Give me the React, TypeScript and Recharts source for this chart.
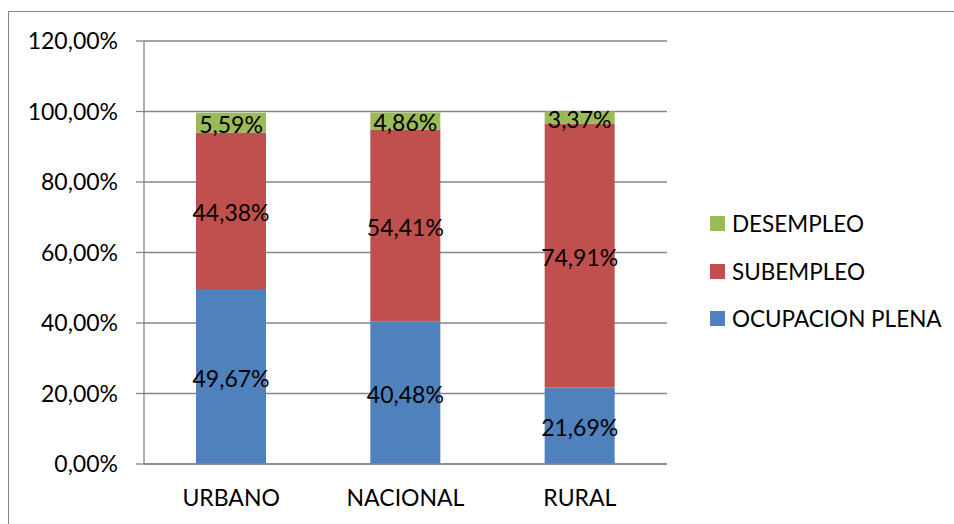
import React from 'react';
import { BarChart, Bar, XAxis, YAxis, CartesianGrid, LabelList } from 'recharts';

const categories = ['URBANO', 'NACIONAL', 'RURAL'];
const ocupacionPlena = [49.67, 40.48, 21.69];
const subempleo = [44.38, 54.41, 74.91];
const desempleo = [5.59, 4.86, 3.37];
const yTicks = [0, 20, 40, 60, 80, 100, 120];
const boundaryTicks = [0, 1, 2, 3];

const series = [
  { key: 'desempleo', name: 'DESEMPLEO', color: '#9BBB59' },
  { key: 'subempleo', name: 'SUBEMPLEO', color: '#C0504D' },
  { key: 'ocupacion', name: 'OCUPACION PLENA', color: '#4F81BD' },
];

const data = categories.map((name, i) => ({
  name,
  ocupacion: ocupacionPlena[i],
  subempleo: subempleo[i],
  desempleo: desempleo[i],
}));

const FONT = 'Lato, "Open Sans", sans-serif';
const GRID = '#868686';

const pct = (v: number) => v.toFixed(2).replace('.', ',') + '%';

export default function App() {
  return (
    <div style={{ position: 'absolute', left: 0, top: 0, width: 954, height: 524, overflow: 'hidden' }}>
      <div
        style={{
          position: 'absolute',
          left: 8,
          top: 11,
          width: 980,
          height: 540,
          border: `1px solid ${GRID}`,
          background: '#fff',
          fontFamily: FONT,
        }}
      >
        <BarChart
          width={946}
          height={512}
          data={data}
          margin={{ top: 29, right: 288, left: 0, bottom: 12 }}
          barSize={70}
        >
          <CartesianGrid xAxisId="b" vertical={false} stroke={GRID} strokeWidth={1.3} />
          <XAxis
            xAxisId="a"
            type="number"
            domain={[0, 3]}
            ticks={boundaryTicks}
            tick={false}
            height={8}
            tickSize={8}
            stroke={GRID}
            strokeWidth={1.3}
          />
          <XAxis
            xAxisId="b"
            dataKey="name"
            axisLine={false}
            tickLine={false}
            tickSize={0}
            tickMargin={18}
            height={40}
            tick={{ fontSize: 23, fill: '#000', fontFamily: FONT }}
          />
          <YAxis
            width={135}
            domain={[0, 120]}
            ticks={yTicks}
            tickFormatter={pct}
            tickSize={8}
            tickMargin={18}
            stroke={GRID}
            strokeWidth={1.3}
            tick={{ fontSize: 23, fill: '#000', fontFamily: FONT }}
          />
          <Bar xAxisId="b" dataKey="ocupacion" stackId="a" fill="#4F81BD" isAnimationActive={false}>
            <LabelList dataKey="ocupacion" position="center" formatter={pct} fill="#000" fontSize={23} fontFamily={FONT} dy={2} />
          </Bar>
          <Bar xAxisId="b" dataKey="subempleo" stackId="a" fill="#C0504D" isAnimationActive={false}>
            <LabelList dataKey="subempleo" position="center" formatter={pct} fill="#000" fontSize={23} fontFamily={FONT} dy={2} />
          </Bar>
          <Bar xAxisId="b" dataKey="desempleo" stackId="a" fill="#9BBB59" isAnimationActive={false}>
            <LabelList dataKey="desempleo" position="center" formatter={pct} fill="#000" fontSize={23} fontFamily={FONT} dy={2} />
          </Bar>
        </BarChart>
        <div style={{ position: 'absolute', left: 701, top: 188 }}>
          {series.map((s) => (
            <div key={s.key} style={{ display: 'flex', alignItems: 'center', height: 47.5 }}>
              <span style={{ width: 15, height: 15, background: s.color, marginRight: 7 }} />
              <span style={{ fontSize: 22.5, color: '#000' }}>{s.name}</span>
            </div>
          ))}
        </div>
      </div>
    </div>
  );
}
